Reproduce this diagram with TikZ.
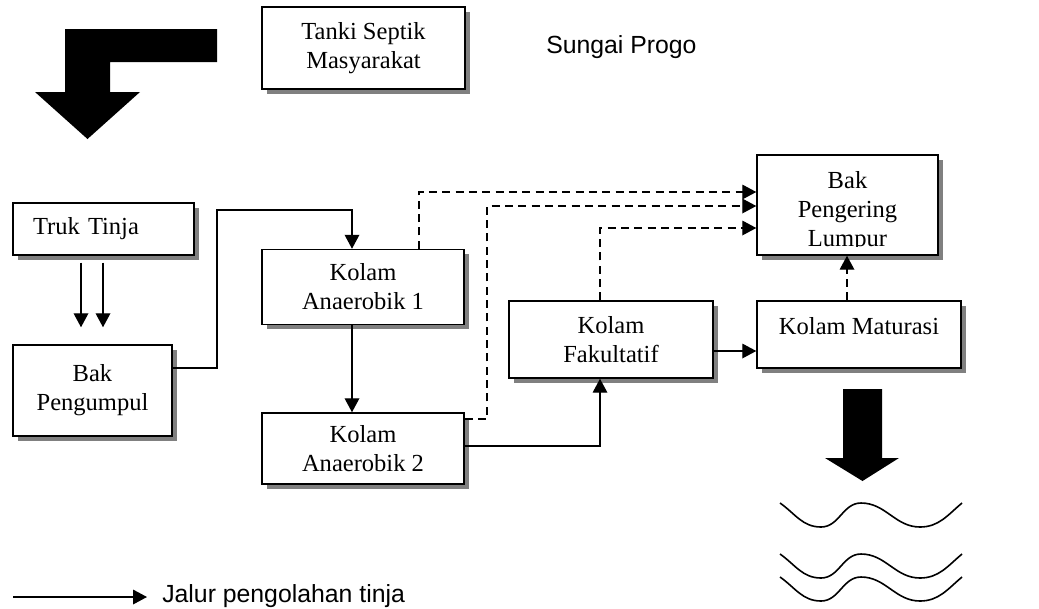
\documentclass[tikz,border=0pt]{standalone}
\usepackage{fontspec}
\setmainfont{Liberation Serif}
\newfontfamily\arialfont{Liberation Sans}
\usepackage{tikz}
\usetikzlibrary{arrows.meta}
\usetikzlibrary{shadows}
\tikzstyle{kotak}=[
        draw,
        line width=1.1pt,
        fill=white,
        align=center,
        inner sep=0pt,
        font=\fontsize{18.4}{21.75}\selectfont,
        drop shadow={shadow xshift=3.4pt,shadow yshift=-3.4pt,fill=black!50,opacity=1}
]
\tikzstyle{isi}=[align=center,inner sep=0pt,font=\fontsize{18.4}{21.75}\selectfont]
\tikzstyle{tulisan}=[anchor=base west,inner sep=0pt,font=\arialfont\fontsize{18.6}{21}\selectfont]
\tikzstyle{alur}=[-{Triangle[length=10.5pt,width=11pt]},line width=1pt]
\tikzstyle{endap}=[alur,dash pattern=on 6pt off 4pt]
\tikzstyle{panah}=[fill=black]
\tikzstyle{ombak}=[line width=1.2pt]

\begin{document}
\begin{tikzpicture}[x=0.75pt,y=-0.75pt]
\useasboundingbox (0,0) rectangle (1039,608);
\node[kotak,minimum width=152.25pt,minimum height=61.5pt] (tanki) at (363.5,48) {Tanki Septik\\Masyarakat};
\node[tulisan] (sungai) at (546,53) {Sungai Progo};
\node[kotak,align=left,text width=105.75pt,inner xsep=15pt,minimum height=39pt] (truk) at (103.5,229) {Truk Tinja};
\node[kotak,minimum width=119.25pt,minimum height=68.25pt] (kumpul) at (92.5,390.5) {Bak\\Pengumpul};
\node[kotak,minimum width=151.5pt,minimum height=56.25pt] (an1) at (363,287) {Kolam\\Anaerobik 1};
\node[kotak,minimum width=151.5pt,minimum height=53.25pt] (an2) at (363,448.5) {Kolam\\Anaerobik 2};
\node[kotak,minimum width=153pt,minimum height=57.75pt] (fak) at (611,339.5) {Kolam\\Fakultatif};
\node[kotak,minimum width=153pt,minimum height=50.25pt] (mat) at (859,334.5) {Kolam Maturasi\\[-9pt]\mbox{}};
\node[kotak,minimum width=135.75pt,minimum height=75pt] (kering) at (847.5,205) {};
\begin{scope}
\clip (757,155) rectangle (938,246);
\node[isi] (keringisi) at (847.5,212) {Bak\\Pengering\\Lumpur};
\end{scope}
%panah besar
\fill[panah] (217,29) -- (65,29) -- (65,92) -- (35,92) -- (87.5,139) -- (140,92) -- (110,92) -- (110,62) -- (217,62) -- cycle;
\fill[panah] (843,389) -- (882,389) -- (882,458) -- (899,458) -- (862.5,481) -- (825,458) -- (843,458) -- cycle;
%sungai
\foreach \y in {503,554,577}
  \draw[ombak] (780,\y) to[out=-35,in=180] (821,\y+24) to[out=0,in=180] (861,\y) to[out=0,in=180] (920,\y+24) to[out=0,in=-140] (962,\y);
%jalur tinja
\foreach \x in {81,103}
  \draw[alur] ([yshift=-5.25pt]truk.south -| \x,0) -- ([yshift=12.75pt]kumpul.north -| \x,0);
\draw[alur] (kumpul.east |- 0,368) -| (217,210) -| (an1.north -| 352,0);
\draw[alur] (an1.south -| 352,0) -- (an2.north -| 352,0);
\draw[alur] (an2.east |- 0,446) -| (fak.south -| 600,0);
\draw[alur] (fak.east |- 0,351) -- (mat.west |- 0,351);
%jalur lumpur
\draw[endap] (an1.north -| 419,0) |- (kering.west |- 0,192);
\draw[endap] (an2.east |- 0,419) -| (487,206) -- (kering.west |- 0,206);
\draw[endap] (fak.north -| 600,0) |- (kering.west |- 0,228);
\draw[endap] (mat.north -| 847,0) -- (kering.south -| 847,0);
%keterangan
\coordinate (ket1) at (13,597);
\coordinate (ket2) at (147,597);
\draw[alur] (ket1) -- (ket2);
\node[tulisan] (ket) at (162,602) {Jalur pengolahan tinja};
\end{tikzpicture}
\end{document}
